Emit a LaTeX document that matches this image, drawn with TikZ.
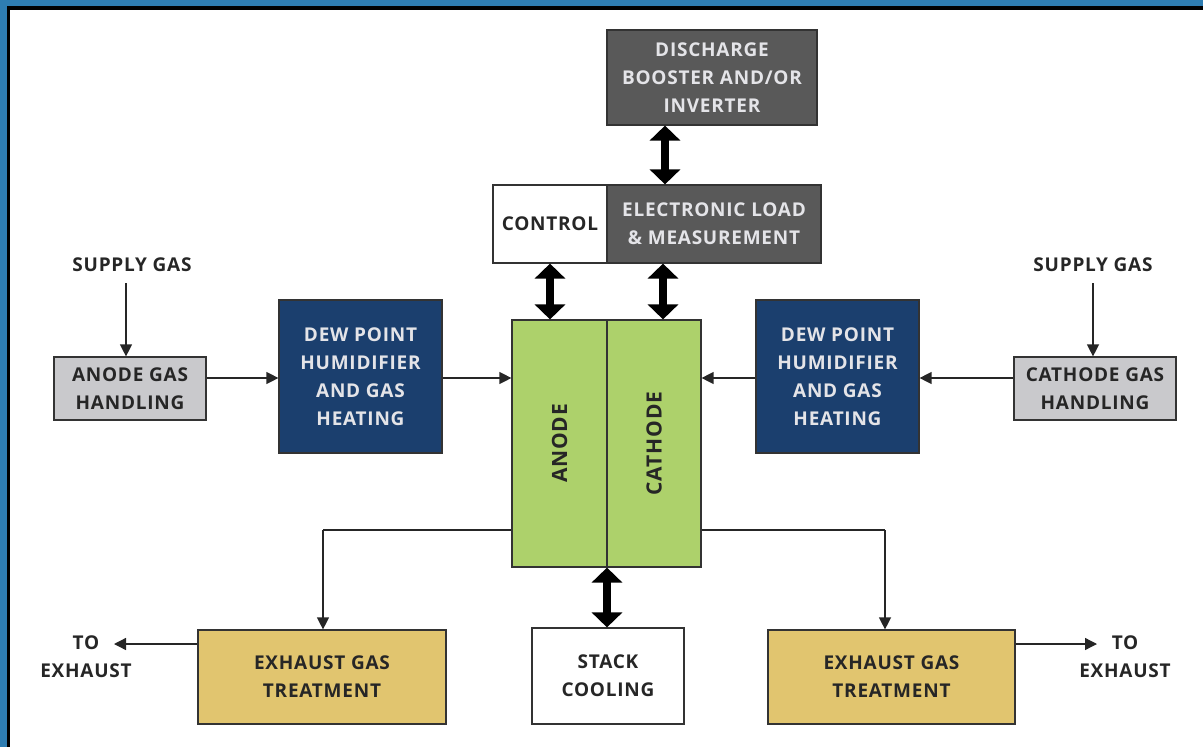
\documentclass[tikz,border=0pt]{standalone}
\usepackage{fontspec}
\setmainfont{Open Sans}[LetterSpace=4]
\usetikzlibrary{arrows.meta}
\definecolor{frameblue}{HTML}{2E7DB2}
\definecolor{boxgray}{HTML}{595959}
\definecolor{boxblue}{HTML}{1B3F6E}
\definecolor{boxgreen}{HTML}{ADD16B}
\definecolor{boxtan}{HTML}{E1C56F}
\definecolor{boxlight}{HTML}{C9C9CC}
\definecolor{txtdark}{HTML}{262626}
\definecolor{txtlight}{HTML}{E4E4E8}
\tikzset{
  base/.style={draw=black!80, line width=1.2pt, inner sep=0pt, align=center, text=txtdark},
  darkbox/.style={base, fill=boxgray, text=txtlight},
  bluebox/.style={base, fill=boxblue, text=txtlight},
  greenbox/.style={base, fill=boxgreen},
  tanbox/.style={base, fill=boxtan},
  lightbox/.style={base, fill=boxlight},
  whitebox/.style={base, fill=white},
  plain/.style={inner sep=0pt, align=center, text=txtdark},
  thinarrow/.style={line width=1.3pt, draw=black!85, -{Triangle[width=12pt,length=12pt]}},
  thinline/.style={line width=1.3pt, draw=black!85},
  dblarrow/.style={line width=8pt, {Triangle[width=30pt,length=15pt]}-{Triangle[width=30pt,length=15pt]}}
}
\begin{document}
\begin{tikzpicture}[x=1pt,y=-1pt, font=\fontsize{19}{28}\selectfont\bfseries]
\useasboundingbox (0,0) rectangle (1203,747);
\fill[frameblue] (0,0) rectangle (1203,7);
\fill[frameblue] (0,0) rectangle (7,747);
\fill[black] (7,6) rectangle (1203,10);
\fill[black] (7,6) rectangle (10,747);

\node[darkbox, minimum width=210pt, minimum height=95pt] (dis) at (712,77.5) {DISCHARGE\\BOOSTER AND/OR\\INVERTER};
\node[whitebox, minimum width=114pt, minimum height=78pt] (ctl) at (550,224) {CONTROL};
\node[darkbox, minimum width=214pt, minimum height=78pt] (el) at (714,224) {ELECTRONIC LOAD\\\& MEASUREMENT};
\node[greenbox, minimum width=95pt, minimum height=247pt] (anode) at (559.5,443.5) {};
\node[greenbox, minimum width=94pt, minimum height=247pt] (cathode) at (654,443.5) {};
\node[plain, rotate=90, font=\fontsize{21}{28}\selectfont\bfseries] (anodet) at (anode.center) {ANODE};
\node[plain, rotate=90, font=\fontsize{21}{28}\selectfont\bfseries] (cathodet) at (cathode.center) {CATHODE};
\node[whitebox, minimum width=152pt, minimum height=96pt] (cool) at (608,676) {STACK\\COOLING};
\node[bluebox, minimum width=163pt, minimum height=153pt] (dewL) at (360.5,376.5) {DEW POINT\\HUMIDIFIER\\AND GAS\\HEATING};
\node[bluebox, minimum width=163pt, minimum height=153pt] (dewR) at (837.5,376.5) {DEW POINT\\HUMIDIFIER\\AND GAS\\HEATING};
\node[lightbox, minimum width=152pt, minimum height=63pt] (agh) at (130,388.5) {ANODE GAS\\HANDLING};
\node[lightbox, minimum width=162pt, minimum height=63pt] (cgh) at (1095,388.5) {CATHODE GAS\\HANDLING};
\node[tanbox, minimum width=248pt, minimum height=94pt] (exL) at (322,677) {EXHAUST GAS\\TREATMENT};
\node[tanbox, minimum width=247pt, minimum height=94pt] (exR) at (891.5,677) {EXHAUST GAS\\TREATMENT};
\node[plain] (supL) at (132,265) {SUPPLY GAS};
\node[plain] (supR) at (1093,265) {SUPPLY GAS};
\node[plain] (toL) at (86,657) {TO\\EXHAUST};
\node[plain] (toR) at (1125,657) {TO\\EXHAUST};

\coordinate (xa) at (665,0);
\coordinate (xc) at (550,0);
\coordinate (xd) at (663,0);
\coordinate (xs) at (607,0);
\coordinate (xsl) at (126,0);
\coordinate (xsr) at (1093,0);
\coordinate (yf) at (0,378);
\coordinate (yex) at (0,530);
\coordinate (xel) at (323,0);
\coordinate (xer) at (885,0);
\coordinate (yto) at (0,644);
\coordinate (xtl) at (114,0);
\coordinate (xtr) at (1097,0);
\coordinate (ysup) at (0,283);

\draw[dblarrow] (dis.south -| xa) -- (el.north -| xa);
\draw[dblarrow] (ctl.south -| xc) -- (anode.north -| xc);
\draw[dblarrow] (el.south -| xd) -- (cathode.north -| xd);
\draw[dblarrow] (anode.south -| xs) -- (cool.north -| xs);

\draw[thinarrow] (xsl |- ysup) -- (agh.north -| xsl);
\draw[thinarrow] (xsr |- ysup) -- (cgh.north -| xsr);
\draw[thinarrow] (agh.east |- yf) -- (dewL.west |- yf);
\draw[thinarrow] (dewL.east |- yf) -- (anode.west |- yf);
\draw[thinarrow] (cgh.west |- yf) -- (dewR.east |- yf);
\draw[thinarrow] (dewR.west |- yf) -- (cathode.east |- yf);
\draw[thinline] (anode.west |- yex) -- (xel |- yex);
\draw[thinarrow] (xel |- yex) -- (xel |- exL.north);
\draw[thinline] (cathode.east |- yex) -- (xer |- yex);
\draw[thinarrow] (xer |- yex) -- (xer |- exR.north);
\draw[thinarrow] (exL.west |- yto) -- (xtl |- yto);
\draw[thinarrow] (exR.east |- yto) -- (xtr |- yto);
\end{tikzpicture}
\end{document}
